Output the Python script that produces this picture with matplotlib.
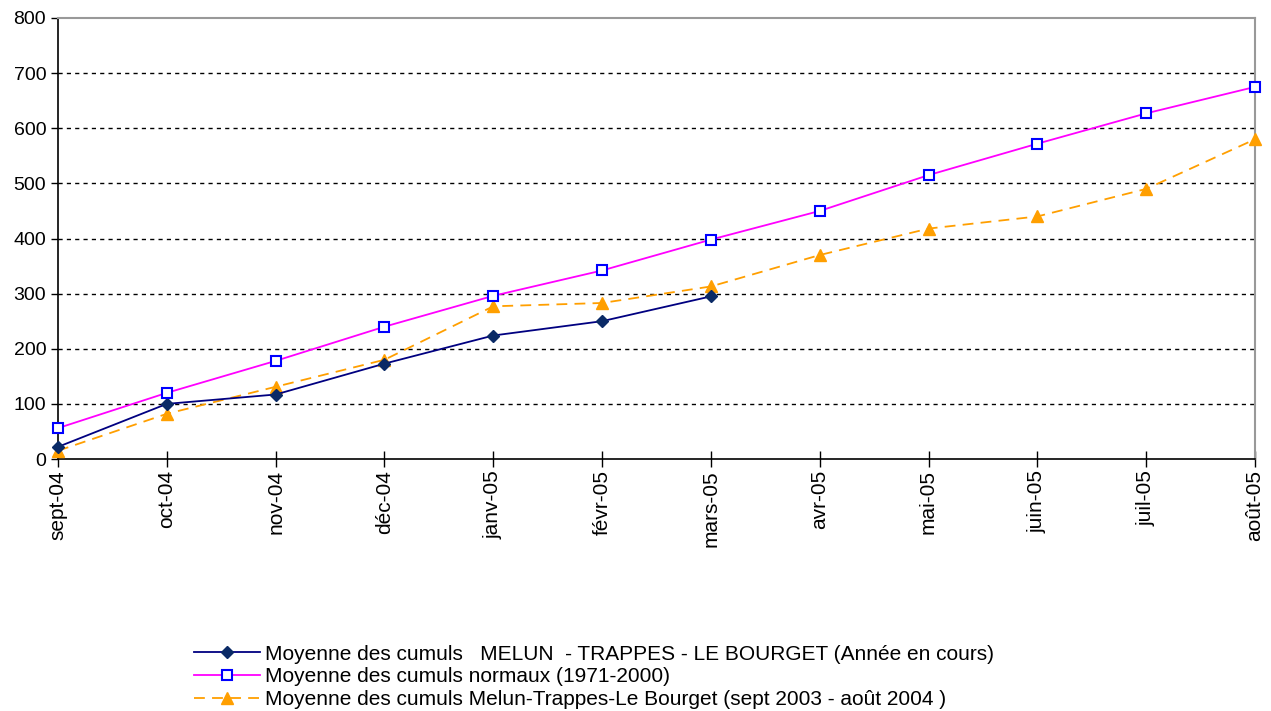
"""
Cumulative rainfall, Sept 2004 - Aug 2005, Melun / Trappes / Le Bourget.
"""
import matplotlib
matplotlib.use("Agg")
import matplotlib.pyplot as plt

plt.rcParams['font.family'] = ['Liberation Sans', 'DejaVu Sans']

months = ["sept-04", "oct-04", "nov-04", "déc-04", "janv-05", "févr-05",
          "mars-05", "avr-05", "mai-05", "juin-05", "juil-05", "août-05"]

# current year, only up to March
current = [22, 100, 117, 173, 224, 250, 295]
# normals 1971-2000
normals = [56, 120, 178, 240, 296, 342, 398, 450, 515, 572, 627, 675]
# previous year (Sept 2003 - Aug 2004)
previous = [15, 82, 131, 180, 277, 283, 313, 370, 418, 440, 490, 580]

labels = ["Moyenne des cumuls   MELUN  - TRAPPES - LE BOURGET (Année en cours)",
          "Moyenne des cumuls normaux (1971-2000)",
          "Moyenne des cumuls Melun-Trappes-Le Bourget (sept 2003 - août 2004 )"]

fig = plt.figure(figsize=(12.71, 7.11), dpi=100)
ax = fig.add_axes([58/1271, 1 - 459/711, (1255 - 58)/1271, (459 - 18)/711])

x = list(range(len(months)))
l1, = ax.plot(x[:len(current)], current, color='#000080', lw=1.3,
              marker='D', ms=6, mfc='#0a2a66', mec='#0a2a66', zorder=4,
              clip_on=False)
l2, = ax.plot(x, normals, color='#FF00FF', lw=1.3,
              marker='s', ms=7, mfc='white', mec='#0000FF', mew=1.5, zorder=4,
              clip_on=False)
l3, = ax.plot(x, previous, color='#FF9F00', lw=1.3, ls=(0, (6, 4)),
              marker='^', ms=8, mfc='#FF9F00', mec='#FF9F00', zorder=3,
              clip_on=False)

ax.set_xlim(0, len(months) - 1)
ax.set_ylim(0, 800)
ax.set_yticks(range(0, 801, 100))
ax.set_xticks(x)
ax.set_xticklabels(months, rotation=90, fontsize=15)
ax.tick_params(axis='y', labelsize=14, direction='out', length=5, width=1)
ax.tick_params(axis='x', direction='inout', length=12, width=1, pad=2)

for v in range(100, 800, 100):
    ax.axhline(v, color='black', lw=1, ls=(0, (3, 3)), zorder=1)

for side in ['top', 'right']:
    ax.spines[side].set_color('#999999')
    ax.spines[side].set_linewidth(1.5)
for side in ['left', 'bottom']:
    ax.spines[side].set_color('black')
    ax.spines[side].set_linewidth(1.2)

fig.legend([l1, l2, l3], labels, loc='upper left',
           bbox_to_anchor=(179/1271, 1 - 630/711), frameon=False,
           fontsize=15, handlelength=3.2, handletextpad=0.25,
           labelspacing=0.18, borderpad=0.2)

fig.savefig("out.png", dpi=100)
